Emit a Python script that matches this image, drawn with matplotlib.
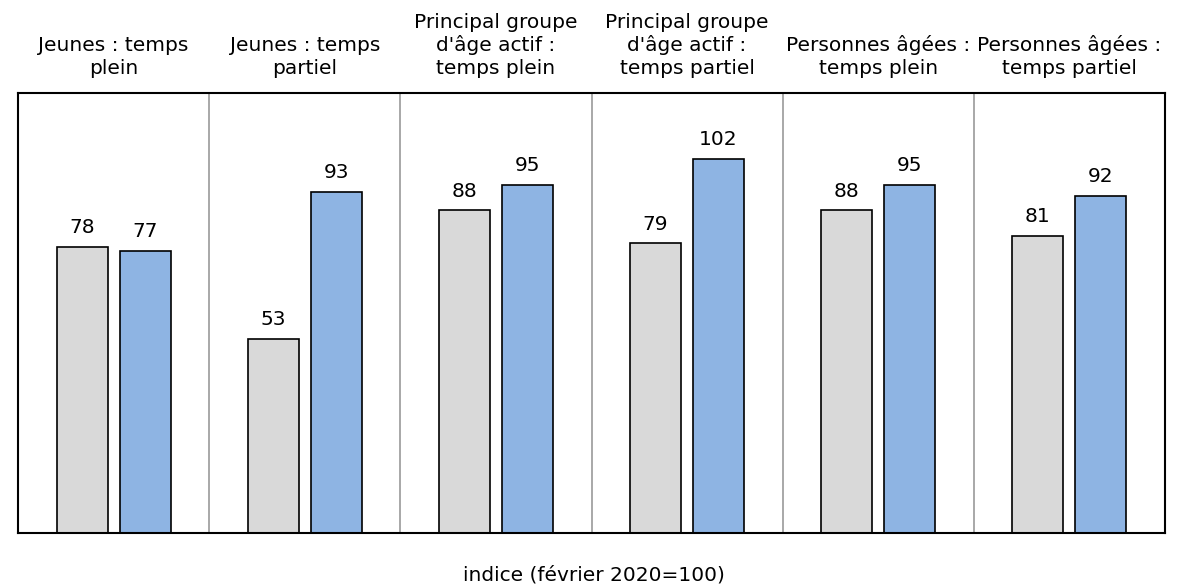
import matplotlib.pyplot as plt
import numpy as np

categories = [
    "Jeunes : temps\nplein",
    "Jeunes : temps\npartiel",
    "Principal groupe\nd'âge actif :\ntemps plein",
    "Principal groupe\nd'âge actif :\ntemps partiel",
    "Personnes âgées :\ntemps plein",
    "Personnes âgées :\ntemps partiel",
]
series_grey = [78, 53, 88, 79, 88, 81]
series_blue = [77, 93, 95, 102, 95, 92]

plt.rcParams['font.family'] = ['DejaVu Sans']

fig = plt.figure(figsize=(11.88, 5.87), dpi=100)
ax = fig.add_axes([0.0152, 0.092, 0.9654, 0.7496])

x = np.arange(len(categories)) + 0.5
off = 0.165
w = 0.267

bars1 = ax.bar(x - off, series_grey, width=w, color='#d9d9d9', edgecolor='black', linewidth=1.2)
bars2 = ax.bar(x + off, series_blue, width=w, color='#8eb4e3', edgecolor='black', linewidth=1.2)

for bars in (bars1, bars2):
    for b in bars:
        ax.annotate(str(int(b.get_height())), (b.get_x() + b.get_width() / 2, b.get_height()),
                    xytext=(0, 7), textcoords='offset points', ha='center', va='bottom', fontsize=14.5)

# separators between the panels
for i in range(1, len(categories)):
    ax.axvline(i, color='#999999', linewidth=1.2)

# panel titles above the box
for xi, c in zip(x, categories):
    ax.text(xi, 1.035, c, transform=ax.get_xaxis_transform(), ha='center', va='bottom',
            fontsize=14.5, linespacing=1.22)

ax.set_xlim(0, len(categories))
ax.set_ylim(0, 120)
ax.set_xticks([])
ax.set_yticks([])
for s in ax.spines.values():
    s.set_linewidth(1.5)

fig.text(0.5, 0.005, "indice (février 2020=100)", ha='center', va='bottom', fontsize=14.5)

fig.savefig('out.png', dpi=100)
